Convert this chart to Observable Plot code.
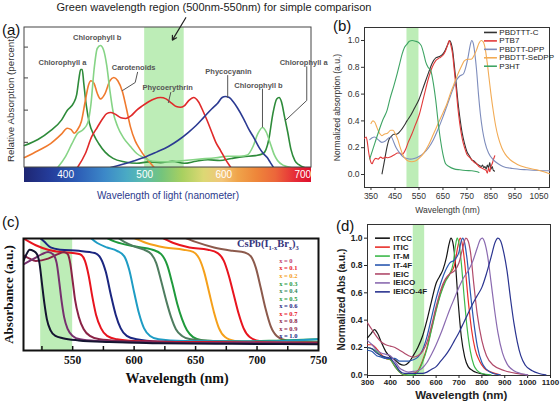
<!DOCTYPE html>
<html><head><meta charset="utf-8">
<script src="https://cdn.jsdelivr.net/npm/d3@7"></script>
<script src="https://cdn.jsdelivr.net/npm/@observablehq/plot@0.6"></script>
<style>
body{margin:0;background:#fff;}
#root{position:relative;width:560px;height:402px;overflow:hidden;font-family:'Liberation Sans',Arial,sans-serif;}
.pn{position:absolute;z-index:1;}
.pn svg{overflow:visible;}
.lab{position:absolute;font-size:15px;line-height:15px;color:#111;z-index:5;}
#title{position:absolute;left:0;top:1px;width:428px;text-align:center;font-size:11px;color:#222;white-space:nowrap;z-index:5;}
#ctitle{position:absolute;left:237px;top:238px;font-family:'Liberation Serif','Times New Roman',serif;font-weight:bold;font-size:10.5px;line-height:11px;color:#34347c;white-space:nowrap;z-index:5;}
#ctitle sub{font-size:6.5px;line-height:0;}
</style></head><body>
<div id="root">
  <div id="title">Green wavelength region (500nm-550nm) for simple comparison</div>
  <div class="lab" style="left:2px;top:22px">(a)</div>
  <div class="lab" style="left:333px;top:18px">(b)</div>
  <div class="lab" style="left:2px;top:214px">(c)</div>
  <div class="lab" style="left:336px;top:218px">(d)</div>
</div>
<script>
// ================= Panel (a) data : wavelength (nm), relative absorption =================
const aChlA = [[348,.157],[365,.2],[381,.264],[395,.34],[402,.407],[410,.46],[414,.52],[417,.64],[419,.70],[421,.70],[423,.6],[426,.45],[430,.32],[436,.23],[442,.17],[450,.11],[460,.065],[475,.04],[490,.03],[505,.04],[520,.035],[535,.045],[550,.03],[565,.045],[580,.055],[595,.05],[610,.065],[625,.078],[640,.085],[650,.1],[657,.2],[662,.38],[667,.49],[670,.5],[673,.47],[677,.36],[681,.25],[685,.13],[690,.05],[695,.02],[702,0]];
const aCarot = [[348,.071],[365,.12],[381,.171],[395,.24],[402,.28],[407,.27],[411,.245],[415,.27],[420,.33],[425,.48],[429,.59],[432,.62],[436,.6],[440,.53],[444,.49],[450,.53],[456,.62],[461,.643],[466,.62],[472,.54],[477,.42],[482,.29],[488,.19],[494,.13],[500,.08],[506,.04],[512,0]];
const aChlB = [[390,0],[400,.08],[408,.17],[415,.243],[422,.27],[428,.32],[432,.45],[436,.7],[440,.85],[444,.871],[448,.84],[452,.73],[456,.55],[460,.4],[466,.29],[473,.214],[482,.15],[490,.1],[499,.07],[510,.045],[530,.04],[550,.05],[570,.06],[590,.07],[605,.08],[620,.08],[630,.09],[637,.15],[643,.24],[649,.286],[654,.25],[659,.17],[664,.09],[668,.05],[676,.014],[685,0]];
const aPhycoE = [[415,0],[425,.1],[433,.22],[440,.286],[447,.35],[452,.385],[457,.393],[463,.38],[470,.355],[476,.35],[483,.37],[490,.41],[497,.44],[505,.47],[512,.49],[520,.5],[527,.49],[534,.46],[540,.435],[545,.43],[550,.44],[556,.48],[562,.5],[568,.47],[574,.4],[579,.336],[585,.25],[590,.18],[596,.121],[602,.06],[609,0]];
const aPhycoC = [[457,0],[470,.02],[485,.045],[499,.071],[515,.11],[530,.15],[542,.193],[555,.25],[565,.3],[575,.36],[585,.42],[592,.457],[598,.5],[602,.507],[607,.5],[612,.47],[617,.429],[625,.35],[632,.27],[638,.214],[645,.14],[650,.1],[655,.071],[659,.035],[663,0]];
const aNames = ["Chlorophyll a","Carotenoids","Chlorophyll b","Phycoerythrin","Phycocyanin"];
const aLabels = [
  {text:"Chlorophyll a", x:396, y:.75},
  {text:"Chlorophyll b", x:440, y:.929},
  {text:"Carotenoids", x:486, y:.714},
  {text:"Phycoerythrin", x:529, y:.571},
  {text:"Phycocyanin", x:606, y:.686},
  {text:"Chlorophyll b", x:644, y:.586},
  {text:"Chlorophyll a", x:701, y:.75}
];
const aLeaders = [
  {id:"car", pts:[[491,.68],[488,.607],[472,.55]]},
  {id:"phe", pts:[[533,.536],[530,.464]]},
  {id:"phc", pts:[[605,.657],[605,.5]]},
  {id:"chb", pts:[[649,.56],[649,.29]]},
  {id:"cha", pts:[[705,.72],[705,.479],[678,.336]]}
];
const aArrow = [{x1:552, y1:1.07, x2:535, y2:.91}];
const aBand = [500, 550];
const aXTicks = [400, 500, 600, 700];
const aYTicks = [0.18, 0.41, 0.64, 0.86];

// ================= Panel (b) data =================
const bNames = ["PBDTTT-C","PTB7","PBDTT-DPP","PBDTT-SeDPP","P3HT"];
const bPBDTTTC = [[396,.005],[405,.09],[415,.19],[425,.26],[435,.285],[445,.3],[455,.3],[465,.31],[475,.33],[490,.37],[500,.4],[515,.44],[530,.49],[550,.56],[570,.66],[590,.76],[605,.83],[620,.87],[635,.88],[650,.9],[660,.93],[670,.97],[678,1.0],[684,.98],[690,.93],[697,.82],[705,.68],[712,.55],[720,.43],[730,.31],[740,.23],[750,.17],[760,.14],[770,.11],[780,.1],[790,.08],[800,.07],[810,.06],[815,.07],[820,.05],[825,.06],[830,.04],[835,.07],[840,.05],[845,.09],[850,.04],[855,.06],[860,.03],[865,.025]];
const bPTB7 = [[323,.27],[330,.28],[335,.24],[340,.17],[345,.12],[350,.09],[355,.08],[360,.1],[370,.12],[380,.115],[390,.13],[400,.12],[410,.13],[420,.125],[430,.13],[440,.14],[450,.15],[460,.16],[470,.16],[478,.15],[486,.16],[495,.19],[505,.24],[520,.3],[535,.37],[550,.44],[570,.58],[590,.72],[605,.8],[620,.85],[635,.87],[650,.89],[660,.92],[670,.97],[676,1.0],[682,.97],[690,.9],[697,.78],[705,.64],[712,.5],[720,.38],[730,.27],[740,.2],[750,.15],[760,.13],[770,.11],[780,.09],[790,.08],[800,.06],[810,.05],[820,.04],[830,.03],[835,.01],[840,.05],[845,.02],[850,.06],[855,.08],[860,.11],[866,.14]];
const bDPP = [[345,.26],[355,.275],[365,.28],[380,.26],[395,.24],[410,.25],[425,.275],[435,.28],[445,.24],[455,.2],[470,.16],[485,.13],[500,.12],[515,.115],[530,.12],[550,.135],[570,.16],[590,.2],[610,.26],[630,.34],[650,.43],[670,.53],[690,.63],[705,.7],[720,.735],[735,.75],[745,.8],[755,.88],[763,.96],[770,1.0],[776,.98],[783,.9],[790,.78],[798,.6],[806,.45],[815,.33],[825,.24],[840,.16],[860,.11],[880,.08],[900,.06],[940,.045],[1000,.035],[1050,.03],[1094,.028]];
const bSeDPP = [[350,.38],[358,.4],[366,.39],[375,.35],[385,.31],[395,.29],[405,.3],[420,.31],[432,.33],[442,.33],[452,.3],[462,.26],[472,.2],[482,.15],[492,.12],[505,.1],[520,.095],[535,.1],[550,.12],[570,.16],[590,.22],[610,.3],[630,.38],[650,.46],[665,.52],[680,.6],[695,.67],[710,.74],[725,.8],[740,.85],[755,.86],[768,.86],[780,.89],[790,.93],[800,.98],[810,1.0],[818,.99],[826,.94],[834,.84],[842,.72],[850,.6],[860,.47],[870,.36],[880,.28],[895,.2],[910,.15],[930,.11],[960,.075],[1000,.05],[1040,.035],[1070,.02],[1094,.005]];
const bP3HT = [[345,.117],[360,.2],[380,.31],[400,.41],[417,.478],[430,.57],[445,.66],[459,.751],[470,.83],[480,.9],[490,.95],[501,.975],[510,.995],[522,1.0],[535,.995],[550,.983],[560,.96],[570,.9],[578,.84],[588,.8],[599,.776],[610,.68],[620,.552],[630,.39],[640,.254],[650,.15],[661,.08],[675,.06],[696,.042],[720,.035],[745,.03],[770,.028],[793,.02],[800,.015]];
const bBand = [500, 550];
const bXTicks = [350,450,550,650,750,850,950,1050];
const bYTicks = [0,0.2,0.4,0.6,0.8,1.0];

// ================= Panel (c) data =================
const cXValues = ["0","0.1","0.2","0.3","0.4","0.5","0.6","0.7","0.8","0.9","1.0"];
const cX00 = [[636,1.03],[650,.97],[665,.92],[680,.89],[690,.875],[695,.84],[699,.74],[703,.56],[707,.37],[711,.22],[716,.13],[724,.09],[738,.075],[750,.07]];
const cX01 = [[619,1.03],[632,.96],[645,.92],[660,.9],[668,.87],[673,.8],[677,.67],[681,.5],[685,.33],[689,.2],[694,.12],[702,.085],[720,.07],[750,.075]];
const cX02 = [[595,1.03],[610,.96],[625,.92],[640,.9],[648,.88],[653,.82],[657,.7],[661,.52],[665,.34],[669,.2],[674,.12],[682,.085],[700,.065],[750,.06]];
const cX03 = [[573,1.03],[585,.97],[600,.93],[615,.9],[622,.86],[627,.76],[631,.6],[635,.42],[639,.28],[643,.18],[648,.12],[656,.09],[680,.08],[720,.09],[750,.1]];
const cX04 = [[584,1.03],[592,.97],[600,.93],[608,.9],[614,.86],[618,.78],[622,.62],[626,.45],[630,.3],[634,.19],[639,.13],[646,.1],[665,.085],[750,.075]];
const cX05 = [[562,1.03],[570,.96],[578,.92],[586,.89],[592,.84],[596,.72],[600,.52],[604,.33],[608,.2],[613,.13],[620,.1],[640,.085],[700,.08],[750,.1]];
const cX06 = [[522,1.02],[527,.97],[532,.92],[540,.9],[555,.89],[568,.87],[573,.82],[577,.7],[581,.5],[585,.32],[589,.2],[594,.13],[602,.1],[620,.08],[680,.07],[750,.065]];
const cX07 = [[510,1.0],[520,.94],[530,.9],[540,.88],[550,.87],[556,.86],[560,.8],[563,.67],[566,.48],[569,.32],[573,.2],[578,.13],[586,.1],[600,.085],[650,.075],[750,.07]];
const cX08 = [[510,.85],[515,.82],[520,.8],[530,.82],[538,.86],[543,.88],[546,.86],[548,.78],[550,.62],[552,.45],[555,.3],[559,.19],[564,.13],[572,.1],[590,.085],[640,.07],[750,.065]];
const cX09 = [[510,.77],[515,.8],[520,.83],[525,.86],[530,.88],[534,.86],[537,.78],[539,.62],[541,.44],[543,.3],[546,.19],[550,.13],[556,.1],[570,.085],[620,.07],[750,.06]];
const cX10 = [[510,.8],[512,.85],[515,.9],[518,.89],[521,.86],[523,.78],[525,.6],[527,.42],[529,.28],[532,.18],[536,.13],[542,.11],[555,.09],[580,.075],[620,.065],[680,.06],[750,.055]];
const cBand = [524, 550];
const cXTicks = [550,600,650,700,750];
const cMinorTicks = [525,550,575,600,625,650,675,700,725];

// ================= Panel (d) data =================
const dNames = ["ITCC","ITIC","IT-M","IT-4F","IEIC","IEICO","IEICO-4F"];
const dITCC = [[300,.27],[315,.3],[330,.33],[345,.3],[360,.24],[380,.17],[400,.13],[420,.11],[440,.08],[460,.07],[480,.09],[500,.14],[520,.2],[540,.28],[560,.4],[580,.54],[600,.67],[615,.72],[630,.77],[645,.86],[657,.96],[665,1.0],[673,.97],[683,.84],[697,.52],[710,.28],[725,.13],[740,.06],[760,.03],[780,.015],[820,0]];
const dITIC = [[300,.22],[320,.22],[340,.19],[360,.15],[380,.12],[400,.11],[420,.06],[440,.02],[460,0],[480,.01],[500,.01],[520,.03],[540,.1],[560,.2],[580,.34],[600,.48],[620,.6],[640,.69],[660,.74],[680,.8],[695,.94],[705,1.0],[714,.96],[725,.82],[740,.55],[755,.33],[770,.19],[790,.1],[810,.05],[840,.02],[880,0]];
const dITM = [[300,.2],[320,.19],[340,.17],[360,.14],[380,.12],[400,.11],[420,.06],[440,.02],[460,0],[500,0],[520,.02],[540,.09],[560,.19],[580,.33],[600,.47],[620,.59],[640,.68],[660,.74],[675,.82],[685,.95],[692,1.0],[700,.96],[710,.82],[722,.58],[735,.35],[750,.17],[765,.07],[780,.03],[800,.01],[840,0]];
const dIT4F = [[300,.18],[320,.17],[340,.14],[360,.13],[380,.12],[400,.12],[420,.12],[440,.1],[460,.1],[480,.1],[500,.11],[520,.13],[540,.18],[560,.28],[580,.42],[600,.56],[620,.67],[640,.76],[660,.82],[680,.84],[700,.9],[710,.98],[716,1.0],[724,.97],[735,.85],[750,.6],[765,.38],[780,.21],[800,.09],[820,.04],[850,.01],[880,0]];
const dIEIC = [[300,.38],[320,.33],[340,.28],[360,.24],[380,.22],[400,.21],[420,.2],[440,.18],[460,.16],[480,.14],[500,.13],[520,.14],[540,.17],[560,.24],[580,.36],[600,.5],[620,.62],[640,.7],[660,.74],[680,.76],[700,.82],[715,.92],[730,1.0],[740,.98],[750,.9],[765,.66],[780,.44],[800,.25],[820,.14],[850,.07],[900,.03],[950,.01],[1000,0]];
const dIEICO = [[300,.25],[320,.22],[340,.18],[360,.16],[380,.15],[400,.14],[420,.1],[440,.05],[460,.03],[480,.02],[500,.025],[520,.03],[540,.05],[560,.09],[580,.15],[600,.22],[620,.3],[640,.39],[660,.48],[680,.56],[700,.64],[720,.71],[740,.76],[760,.83],[780,.93],[793,.99],[802,1.0],[812,.97],[825,.87],[840,.68],[855,.48],[870,.31],[890,.16],[910,.08],[940,.03],[970,.01],[1000,0]];
const dIEICO4F = [[300,.2],[320,.19],[340,.16],[360,.14],[380,.13],[400,.12],[420,.08],[440,.03],[460,.01],[500,.01],[540,.01],[560,.02],[580,.04],[600,.06],[620,.1],[640,.14],[660,.19],[680,.25],[700,.31],[720,.38],[740,.45],[760,.52],[780,.58],[800,.64],[820,.74],[840,.86],[858,.97],[870,1.0],[882,.98],[895,.9],[910,.76],[925,.56],[940,.38],[955,.24],[970,.14],[990,.07],[1020,.03],[1050,.01],[1080,0]];
const dBand = [500, 550];
const dXTicks = [300,400,500,600,700,800,900,1000,1100];
const dYTicks = [0,0.2,0.4,0.6,0.8,1.0];

// ================= Styles =================
const SANS = "'Liberation Sans', Arial, Helvetica, sans-serif";
const SERIF = "'Liberation Serif', 'Times New Roman', serif";
const GREEN = "#bdedb7";
const aColors = ["#2e8b3a","#f07a2e","#86d486","#e02a2a","#2b3a92"];
const bColors = ["#333333","#e23a3a","#7d8cbc","#f2ab55","#3ea464"];
const cColors = ["#8c5a4c","#e8141e","#f5a01a","#1f9a3c","#4f7d60","#1e9cc4","#1b2680","#e8141e","#8a2346","#76306e","#141430"];
const cLegendColors = ["#c03a6a","#e8141e","#f5a01a","#1f9a3c","#2f8a5a","#1f9a3c","#1b2680","#e8141e","#8a2346","#8a2346","#1b2680"];
const dColors = ["#151515","#e8302a","#3cb84a","#2a58b0","#b04a6a","#8a6ab0","#2a3490"];
const specStops = [[348,"#1e2672"],[380,"#243c9a"],[415,"#2c5cb6"],[450,"#3c88c8"],[478,"#4aaac4"],[500,"#5cbcac"],[522,"#74c47c"],[548,"#a8d060"],[575,"#dcd874"],[598,"#f2c67a"],[618,"#f0a44a"],[642,"#ee863a"],[666,"#ec663a"],[690,"#e62e38"],[711,"#de0e2c"]];

const flat = (names, arrs, colors) => names.flatMap((n, i) => arrs[i].map(([x, y]) => ({name: n, color: colors[i], x, y})));
const root = document.getElementById("root");
function place(svg, left, top, w) {
  const d = document.createElement("div");
  d.className = "pn"; d.style.left = left + "px"; d.style.top = top + "px"; d.style.width = w + "px";
  d.appendChild(svg); root.appendChild(d);
}
const baseStyle = {fontFamily: SANS, background: "transparent", overflow: "visible", color: "#333"};
const YL = {textAnchor: "middle", lineAnchor: "middle", rotate: -90, frameAnchor: "left"};
const XL = {textAnchor: "middle", lineAnchor: "middle", frameAnchor: "bottom"};

// ================= Panel (a) =================
const aRows = flat(aNames, [aChlA, aCarot, aChlB, aPhycoE, aPhycoC], aColors);
const aLeaderRows = aLeaders.flatMap(l => l.pts.map(([x, y]) => ({id: l.id, x, y})));
const aDomX = [348, 711], aDomY = [-0.107, 1];
const A = Plot.plot({
  width: 330, height: 200, marginLeft: 24, marginRight: 19, marginTop: 27, marginBottom: 18,
  x: {domain: aDomX, axis: null}, y: {domain: aDomY, axis: null}, color: {type: "identity"},
  style: baseStyle,
  marks: [
    Plot.rect([aBand], {x1: d => d[0], x2: d => d[1], y1: 0, y2: aDomY[1], fill: GREEN}),
    Plot.line(aRows, {x: "x", y: "y", z: "name", stroke: "color", strokeWidth: 1.6, curve: "monotone-x"}),
    Plot.rect([aDomX], {x1: d => d[0], x2: d => d[1], y1: aDomY[0], y2: 0, fill: "url(#specgrad)"}),
    Plot.rect([aDomX], {x1: d => d[0], x2: d => d[1], y1: 0, y2: aDomY[1], fill: "none", stroke: "#444"}),
    Plot.tickY(aYTicks, {y: d => d, insetRight: 283, stroke: "#444"}),
    Plot.text(aXTicks, {x: d => d, y: aDomY[0] / 2, text: d => `${d}`, fill: "white", fontSize: 10}),
    Plot.line(aLeaderRows, {x: "x", y: "y", z: "id", stroke: "#555", strokeWidth: 1}),
    Plot.text(aLabels, {x: "x", y: "y", text: "text", fontSize: 7.5, fontWeight: "bold", fill: "#555"}),
    Plot.arrow(aArrow, {x1: "x1", y1: "y1", x2: "x2", y2: "y2", stroke: "#222", strokeWidth: 1.2, headLength: 6}),
    Plot.text(["Relative Absorption (percent)"], {...YL, text: d => d, y: 0.49, dx: -14, fontSize: 9.8, fill: "#333"}),
    Plot.text(["Wavelength of light (nanometer)"], {...XL, text: d => d, dy: 13, fontSize: 10, fill: "#2b3a8c"})
  ]
});
{
  const NS = "http://www.w3.org/2000/svg";
  const defs = document.createElementNS(NS, "defs");
  const g = document.createElementNS(NS, "linearGradient");
  g.setAttribute("id", "specgrad"); g.setAttribute("x1", "0"); g.setAttribute("x2", "1"); g.setAttribute("y1", "0"); g.setAttribute("y2", "0");
  for (const [wl, c] of specStops) {
    const s = document.createElementNS(NS, "stop");
    s.setAttribute("offset", (wl - aDomX[0]) / (aDomX[1] - aDomX[0]));
    s.setAttribute("stop-color", c);
    g.appendChild(s);
  }
  defs.appendChild(g); A.insertBefore(defs, A.firstChild);
}
place(A, 0, 0, 330);

// ================= Panel (b) =================
const bRows = flat(bNames, [bPBDTTTC, bPTB7, bDPP, bSeDPP, bP3HT], bColors);
const bLeg = bNames.map((n, i) => ({name: n, color: bColors[i], y: 1.06 - i * 0.063}));
const B = Plot.plot({
  width: 230, height: 218, marginLeft: 34, marginRight: 11, marginTop: 27, marginBottom: 31,
  x: {domain: [323, 1094], axis: null}, y: {domain: [-0.097, 1.097], axis: null}, color: {type: "identity"},
  style: baseStyle,
  marks: [
    Plot.rect([bBand], {x1: d => d[0], x2: d => d[1], fill: GREEN}),
    Plot.frame({stroke: "#333"}),
    Plot.axisY(bYTicks, {tickSize: 3, tickPadding: 2, tickFormat: ".1f", fontSize: 8.5, label: null}),
    Plot.axisX(bXTicks, {tickSize: 3, tickPadding: 2, tickFormat: d => `${d}`, fontSize: 8.5, label: null}),
    Plot.line(bRows, {x: "x", y: "y", z: "name", stroke: "color", strokeWidth: 1.1, curve: "monotone-x"}),
    Plot.ruleY(bLeg, {y: "y", x1: 823, x2: 877, stroke: "color", strokeWidth: 1.6}),
    Plot.text(bLeg, {x: 885, y: "y", text: "name", textAnchor: "start", fontSize: 8, fill: "#222"}),
    Plot.text(["Normalized absorption (a.u.)"], {...YL, text: d => d, y: 0.5, dx: -27, fontSize: 8.5, fill: "#333"}),
    Plot.text(["Wavelength (nm)"], {...XL, text: d => d, x: 669, dy: 23, fontSize: 8.5, fill: "#333"})
  ]
});
place(B, 330, 0, 230);

// ================= Panel (c) =================
const cRows = flat(cXValues, [cX00, cX01, cX02, cX03, cX04, cX05, cX06, cX07, cX08, cX09, cX10], cColors);
const cLeg = cXValues.map((v, i) => ({text: `x = ${v}`, color: cLegendColors[i], y: 0.80 - i * 0.067}));
const C = Plot.plot({
  width: 335, height: 202, marginLeft: 23, marginRight: 17, marginTop: 38, marginBottom: 52,
  x: {domain: [510, 750], axis: null}, y: {domain: [0, 1], axis: null}, color: {type: "identity"},
  style: {...baseStyle, fontFamily: SERIF, color: "#111"},
  marks: [
    Plot.rect([cBand], {x1: d => d[0], x2: d => d[1], fill: GREEN}),
    Plot.line(cRows, {x: "x", y: "y", z: "name", stroke: "color", strokeWidth: 2, curve: "monotone-x", clip: true}),
    Plot.frame({stroke: "#111", strokeWidth: 2}),
    Plot.tickX(cMinorTicks, {x: d => d, insetTop: 108, stroke: "#111", strokeWidth: 1.5}),
    Plot.axisX(cXTicks, {tickSize: 0, tickPadding: 5, tickFormat: d => `${d}`, fontSize: 11.5, fontWeight: "bold", fontFamily: SERIF, label: null}),
    Plot.text(cLeg, {x: 718, y: "y", text: "text", fill: "color", textAnchor: "start", fontFamily: SERIF, fontWeight: "bold", fontSize: 6.5}),
    Plot.text(["Absorbance (a.u.)"], {...YL, text: d => d, dx: -15, fontSize: 13, fontWeight: "bold", fill: "#111"}),
    Plot.text(["Wavelength (nm)"], {...XL, text: d => d, x: 635, dy: 28, fontSize: 14, fontWeight: "bold", fill: "#111"})
  ]
});
place(C, 0, 200, 335);
const ct = document.createElement("div");
ct.id = "ctitle"; ct.innerHTML = "CsPb(I<sub>1-x</sub>Br<sub>x</sub>)<sub>3</sub>";
root.appendChild(ct);

// ================= Panel (d) =================
const dRows = flat(dNames, [dITCC, dITIC, dITM, dIT4F, dIEIC, dIEICO, dIEICO4F], dColors);
const dLeg = dNames.map((n, i) => ({name: n, color: dColors[i], y: 1.0 - i * 0.0655}));
const D = Plot.plot({
  width: 225, height: 197, marginLeft: 32, marginRight: 10, marginTop: 19, marginBottom: 27,
  x: {domain: [300, 1100], axis: null}, y: {domain: [-0.005, 1.1], axis: null}, color: {type: "identity"},
  style: {...baseStyle, color: "#222"},
  marks: [
    Plot.rect([dBand], {x1: d => d[0], x2: d => d[1], fill: GREEN}),
    Plot.frame({stroke: "#333"}),
    Plot.axisY(dYTicks, {tickSize: 3, tickPadding: 2, tickFormat: ".1f", fontSize: 8.5, fontWeight: "bold", label: null}),
    Plot.axisX(dXTicks, {tickSize: 3, tickPadding: 1, tickFormat: d => `${d}`, fontSize: 8, fontWeight: "bold", label: null}),
    Plot.line(dRows, {x: "x", y: "y", z: "name", stroke: "color", strokeWidth: 1.2, curve: "monotone-x"}),
    Plot.ruleY(dLeg, {y: "y", x1: 335, x2: 400, stroke: "color", strokeWidth: 1.6}),
    Plot.text(dLeg, {x: 413, y: "y", text: "name", textAnchor: "start", fontSize: 8, fontWeight: "bold", fill: "#222"}),
    Plot.text(["Normalized Abs (a.u.)"], {...YL, text: d => d, y: 0.55, dx: -26, fontSize: 10, fontWeight: "bold", fill: "#222"}),
    Plot.text(["Wavelength (nm)"], {...XL, text: d => d, x: 710, dy: 20, fontSize: 11.5, fontWeight: "bold", fill: "#222"})
  ]
});
place(D, 335, 205, 225);
</script>
</body></html>
